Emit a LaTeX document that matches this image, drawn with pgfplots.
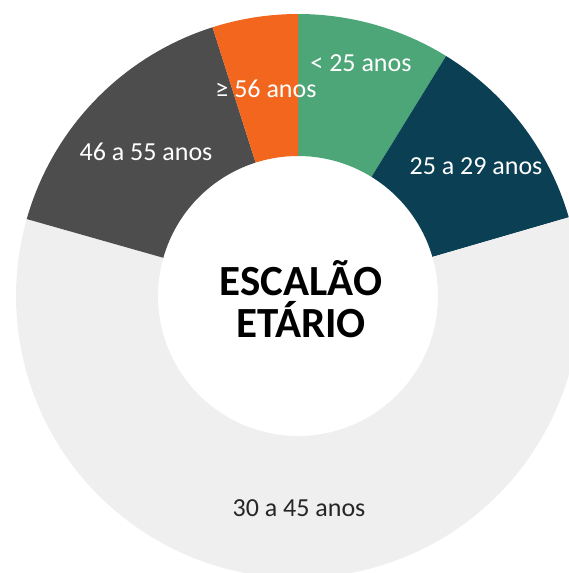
\documentclass[border=0pt]{standalone}
\usepackage{pgfplots}
\usepackage{pgfplotstable}
\usepackage{fontspec}
\setmainfont{Carlito}
\pgfplotsset{compat=1.18}
\definecolor{cgreen}{HTML}{4CA678}
\definecolor{cteal}{HTML}{0B4054}
\definecolor{clight}{HTML}{EFEFEF}
\definecolor{cdark}{HTML}{4D4D4D}
\definecolor{corange}{HTML}{F2661E}
\definecolor{ctext}{HTML}{262626}

% share (%) of each age group, clockwise from the top
\pgfplotstableread{
value
8.8
11.7
58.9
15.7
4.9
}\agedata

\def\cx{298}\def\cy{296}\def\Ro{282}\def\Ri{140}
\newcommand\sector[3]{%
  \fill[#3] (axis cs:{\cx+\Ro*sin(#1)},{\cy-\Ro*cos(#1)})
    arc[start angle={90-(#1)}, end angle={90-(#2)}, radius=\Ro pt]
    -- (axis cs:{\cx+\Ri*sin(#2)},{\cy-\Ri*cos(#2)})
    arc[start angle={90-(#2)}, end angle={90-(#1)}, radius=\Ri pt] -- cycle;}

\begin{document}
\begin{tikzpicture}
\pgfplotstablegetelem{0}{value}\of\agedata \let\vA\pgfplotsretval
\pgfplotstablegetelem{1}{value}\of\agedata \let\vB\pgfplotsretval
\pgfplotstablegetelem{2}{value}\of\agedata \let\vC\pgfplotsretval
\pgfplotstablegetelem{3}{value}\of\agedata \let\vD\pgfplotsretval
\pgfplotstablegetelem{4}{value}\of\agedata \let\vE\pgfplotsretval
\pgfmathsetmacro\aA{0}
\pgfmathsetmacro\aB{\aA+3.6*\vA}
\pgfmathsetmacro\aC{\aB+3.6*\vB}
\pgfmathsetmacro\aD{\aC+3.6*\vC}
\pgfmathsetmacro\aE{\aD+3.6*\vD}
\pgfmathsetmacro\aF{\aE+3.6*\vE}
\begin{axis}[
  scale only axis, width=569pt, height=573pt,
  xmin=0, xmax=569, ymin=0, ymax=573, y dir=reverse,
  hide axis, clip=true,
]
\sector{\aA}{\aB}{cgreen}
\sector{\aB}{\aC}{cteal}
\sector{\aC}{\aD}{clight}
\sector{\aD}{\aE}{cdark}
\sector{\aE}{\aF}{corange}
\node[white, font=\fontsize{26}{30}\selectfont] at (axis cs:361,63) {< 25 anos};
\node[white, font=\fontsize{26}{30}\selectfont] at (axis cs:476,166) {25 a 29 anos};
\node[ctext, font=\fontsize{26}{30}\selectfont] at (axis cs:299,508) {30 a 45 anos};
\node[white, font=\fontsize{26}{30}\selectfont] at (axis cs:146,152) {46 a 55 anos};
\node[white, font=\fontsize{26}{30}\selectfont] at (axis cs:266,89) {≥ 56 anos};
\node[black, font=\fontsize{43}{42.6}\selectfont\bfseries, align=center] at (axis cs:301,299) {ESCALÃO\\ETÁRIO};
\end{axis}
\pgfresetboundingbox
\path (current axis.south west) rectangle (current axis.north east);
\end{tikzpicture}
\end{document}
